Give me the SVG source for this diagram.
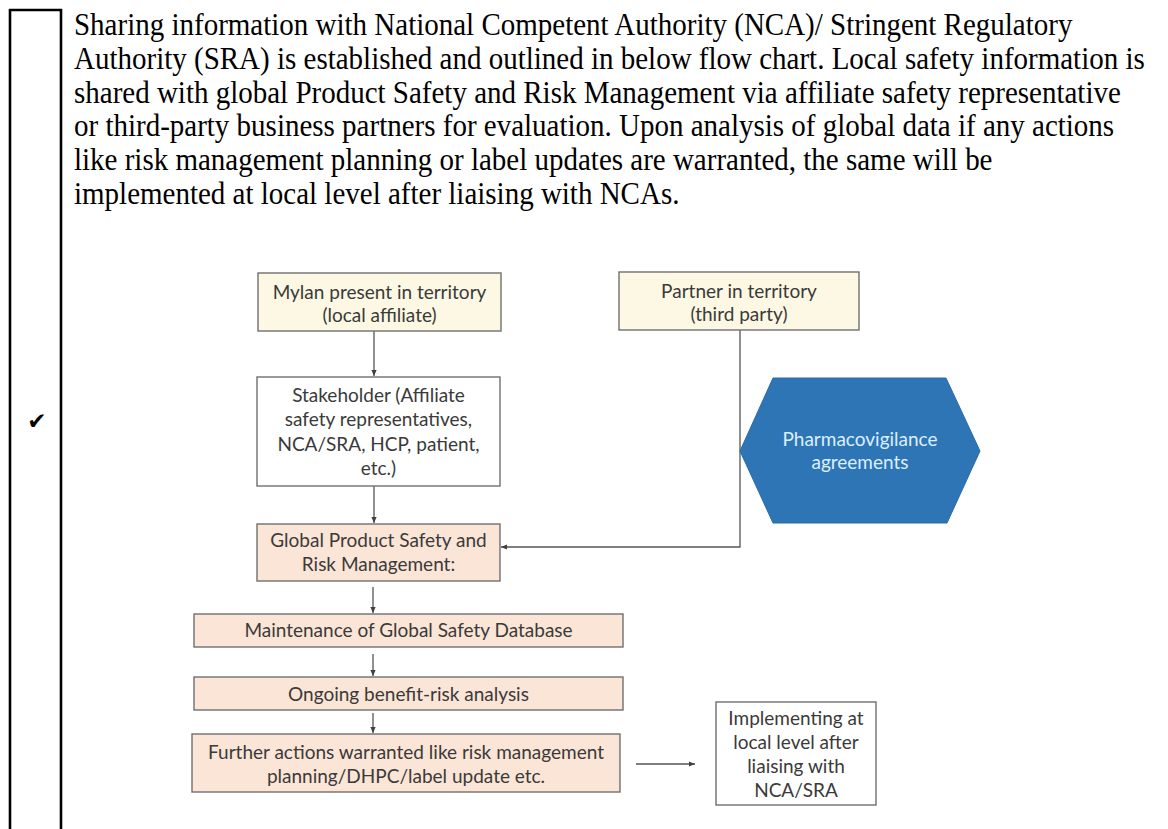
<svg xmlns="http://www.w3.org/2000/svg" width="1168" height="829" viewBox="0 0 1168 829">
<defs>
<marker id="ah" markerWidth="8" markerHeight="8" refX="6" refY="3" orient="auto" markerUnits="userSpaceOnUse">
<path d="M0,0.4 L6,3 L0,5.6 Z" fill="#404040"/>
</marker>
<style>
.para{font-family:"Liberation Serif","Times New Roman",serif;font-size:29px;fill:#000}
.box{stroke:#6f6f6f;stroke-width:1.4}
.yel{fill:#fcf8e3}
.pch{fill:#fbe5d6}
.wht{fill:#ffffff}
.lbl{font-family:Lato,"Open Sans",sans-serif;font-size:19px;fill:#3a3a3a;text-anchor:middle}
.hexlbl{font-family:Lato,"Open Sans",sans-serif;font-size:19px;fill:#dcefff;text-anchor:middle}
.con{stroke:#555;stroke-width:1.3;fill:none}
.tbl{stroke:#000;stroke-width:2.6;fill:none}
</style>
</defs>
<rect width="1168" height="829" fill="#ffffff"/>
<g id="table">
<line class="tbl" x1="10" y1="9" x2="10" y2="829"/>
<line class="tbl" x1="61" y1="9" x2="61" y2="829"/>
<line class="tbl" x1="9" y1="10" x2="62" y2="10"/>
<text x="37" y="429" font-family="DejaVu Sans,sans-serif" font-size="23" text-anchor="middle" fill="#000">✔</text>
</g>
<g id="paragraph" transform="scale(1 1.08)">
<text class="para" x="74" y="32.87">Sharing information with National Competent Authority (NCA)/ Stringent Regulatory</text>
<text class="para" x="74" y="63.98">Authority (SRA) is established and outlined in below flow chart. Local safety information is</text>
<text class="para" x="74" y="95.09">shared with global Product Safety and Risk Management via affiliate safety representative</text>
<text class="para" x="74" y="126.2">or third-party business partners for evaluation. Upon analysis of global data if any actions</text>
<text class="para" x="74" y="157.31">like risk management planning or label updates are warranted, the same will be</text>
<text class="para" x="74" y="188.43">implemented at local level after liaising with NCAs.</text>
</g>
<g id="connectors">
<line class="con" x1="374" y1="331" x2="374" y2="376" marker-end="url(#ah)"/>
<line class="con" x1="374" y1="486" x2="374" y2="523" marker-end="url(#ah)"/>
<polyline class="con" points="740,330 740,547 501,547" marker-end="url(#ah)"/>
<line class="con" x1="373" y1="587" x2="373" y2="613" marker-end="url(#ah)"/>
<line class="con" x1="373" y1="654" x2="373" y2="676" marker-end="url(#ah)"/>
<line class="con" x1="373" y1="713" x2="373" y2="733" marker-end="url(#ah)"/>
<line class="con" x1="636" y1="764" x2="695" y2="764" marker-end="url(#ah)"/>
</g>
<g id="mylan">
<rect class="box yel" x="258" y="273" width="243" height="58"/>
<text class="lbl" x="379.5" y="299">Mylan present in territory</text>
<text class="lbl" x="379.5" y="322">(local affiliate)</text>
</g>
<g id="partner">
<rect class="box yel" x="619" y="272" width="240" height="58"/>
<text class="lbl" x="739" y="298">Partner in territory</text>
<text class="lbl" x="739" y="321">(third party)</text>
</g>
<g id="stakeholder">
<rect class="box wht" x="257" y="377" width="243" height="109"/>
<text class="lbl" x="378.5" y="402">Stakeholder (Affiliate</text>
<text class="lbl" x="378.5" y="426">safety representatives,</text>
<text class="lbl" x="378.5" y="451">NCA/SRA, HCP, patient,</text>
<text class="lbl" x="378.5" y="475">etc.)</text>
</g>
<g id="pharmacovigilance">
<polygon points="740,451 773,378 946,378 980,451 947,523 773,523" fill="#2e75b6" stroke="#2a6aa8" stroke-width="1"/>
<text class="hexlbl" x="860" y="446">Pharmacovigilance</text>
<text class="hexlbl" x="860" y="469">agreements</text>
</g>
<g id="global">
<rect class="box pch" x="257" y="524" width="243" height="57"/>
<text class="lbl" x="378.5" y="547">Global Product Safety and</text>
<text class="lbl" x="378.5" y="571">Risk Management:</text>
</g>
<g id="maintenance">
<rect class="box pch" x="194" y="614" width="429" height="33"/>
<text class="lbl" x="408.5" y="637">Maintenance of Global Safety Database</text>
</g>
<g id="ongoing">
<rect class="box pch" x="194" y="677" width="429" height="33"/>
<text class="lbl" x="408.5" y="701">Ongoing benefit-risk analysis</text>
</g>
<g id="further">
<rect class="box pch" x="192" y="734" width="428" height="58"/>
<text class="lbl" x="406" y="759">Further actions warranted like risk management</text>
<text class="lbl" x="406" y="783">planning/DHPC/label update etc.</text>
</g>
<g id="implementing">
<rect class="box wht" x="716" y="702" width="160" height="103"/>
<text class="lbl" x="796" y="725">Implementing at</text>
<text class="lbl" x="796" y="749">local level after</text>
<text class="lbl" x="796" y="773">liaising with</text>
<text class="lbl" x="796" y="797">NCA/SRA</text>
</g>
</svg>
